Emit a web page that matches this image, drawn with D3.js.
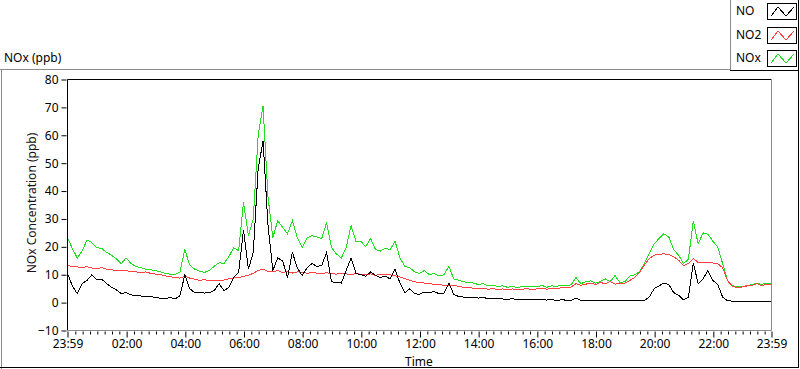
<!DOCTYPE html>
<html>
<head>
<meta charset="utf-8">
<script src="https://cdn.jsdelivr.net/npm/d3@7"></script>
<style>
  html, body { margin: 0; padding: 0; background: #fff; }
  svg text { font-family: "Noto Sans", "DejaVu Sans", sans-serif; }
</style>
</head>
<body>
<div id="chart"></div>
<script>
// samples every 10 minutes, starting 23:59 the day before
const stepMinutes = 10

const no2 = [
    13.3, 13.0, 12.8, 12.6, 12.9, 12.4,
    12.2, 12.5, 12.0, 11.8, 11.5, 11.6,
    11.4, 11.2, 11.0, 10.8, 11.0, 10.5,
    10.2, 10.0, 9.6, 9.3, 9.0, 8.8,
    9.5, 8.8, 8.4, 8.0, 8.2, 7.9,
    7.8, 8.0, 8.1, 8.5, 8.8, 9.0,
    9.4, 9.8, 10.5, 11.5, 12.0, 11.2,
    11.0, 11.5, 10.8, 11.2, 10.6, 11.0,
    10.9, 10.5, 10.8, 10.6, 10.4, 10.7,
    10.4, 10.2, 10.5, 10.3, 10.0, 10.4,
    10.2, 10.0, 10.3, 9.8, 10.1, 9.9,
    10.0, 9.6, 9.2, 8.6, 8.0, 7.5,
    7.2, 7.0, 6.8, 6.6, 6.5, 6.2,
    6.0, 6.3, 5.8, 5.5, 5.4, 5.2,
    5.0, 5.1, 4.8, 5.0, 4.7, 4.9,
    4.7, 4.9, 4.6, 4.8, 5.0, 4.7,
    4.9, 5.2, 4.8, 5.1, 5.0, 5.3,
    5.4, 5.6, 6.8, 6.2, 6.6, 7.0,
    6.5, 7.2, 6.8, 7.5, 6.6, 7.0,
    7.0, 7.9, 9.0, 10.8, 13.5, 15.8,
    17.0, 17.3, 17.5, 17.2, 16.4, 15.2,
    13.3, 14.0, 15.8, 14.4, 14.3, 14.5,
    14.2, 14.0, 12.5, 7.9, 5.8, 5.4,
    5.6, 6.0, 6.2, 6.8, 6.0, 6.6,
    6.3
]

const no = [
    10.4, 6.0, 3.2, 6.8, 8.0, 10.0,
    8.2, 8.4, 6.8, 5.5, 4.6, 3.2,
    3.6, 2.8, 2.5, 2.4, 2.0, 2.2,
    1.8, 1.6, 1.5, 1.8, 1.3, 2.5,
    10.0, 5.0, 3.6, 3.8, 3.4, 3.6,
    4.3, 6.8, 4.3, 5.4, 9.0, 10.8,
    26.0, 12.0, 18.0, 48.0, 58.0, 28.0,
    11.5, 16.0, 15.0, 9.0, 18.0, 12.5,
    9.7, 12.5, 14.0, 13.0, 13.3, 18.0,
    7.5, 7.2, 7.0, 11.5, 16.0, 10.5,
    10.0, 9.5, 11.0, 9.8, 9.0, 9.5,
    8.5, 12.0, 7.0, 3.5, 5.0, 3.2,
    3.0, 3.8, 3.5, 4.0, 3.2, 3.4,
    7.0, 3.0, 2.2, 2.0, 1.8, 2.0,
    1.6, 1.8, 1.5, 1.4, 1.6, 1.3,
    1.2, 1.4, 1.1, 1.3, 1.0, 1.2,
    1.0, 1.2, 0.9, 1.1, 0.8, 1.0,
    0.9, 0.7, 1.6, 0.8, 0.9, 0.7,
    0.8, 0.6, 0.7, 0.9, 0.6, 0.8,
    0.6, 0.7, 0.6, 0.8, 0.7, 2.0,
    5.0, 6.0, 7.0, 6.5, 3.6, 2.6,
    1.0, 2.0, 14.3, 6.8, 8.5, 11.5,
    8.0, 6.5, 2.0, 0.7, 0.5, 0.4,
    0.5, 0.3, 0.4, 0.3, 0.5, 0.3,
    0.3
]

const nox = [
    23.3, 19.4, 16.0, 18.5, 22.5, 21.5,
    19.7, 19.4, 18.0, 17.0, 15.7, 14.0,
    16.0, 14.0, 13.0, 12.5, 12.0, 11.8,
    11.5, 11.0, 10.5, 10.2, 10.0, 11.0,
    19.0, 13.5, 12.0, 11.3, 10.8, 11.5,
    13.0, 14.3, 14.0, 16.5, 19.7, 18.6,
    36.0, 24.0, 30.0, 60.0, 70.6, 38.0,
    23.3, 29.4, 27.0, 24.7, 29.4, 23.3,
    19.7, 23.3, 24.0, 23.5, 23.0, 28.7,
    19.7, 17.5, 16.0, 19.7, 27.6, 22.0,
    22.0, 20.0, 23.0, 19.0, 18.5, 19.5,
    19.0, 22.0, 16.0, 13.0, 12.5, 11.0,
    10.5, 11.5, 10.0, 10.5, 9.5, 10.0,
    13.0, 8.5, 8.0, 7.5, 7.2, 7.0,
    6.5, 6.8, 6.0, 6.2, 5.8, 6.0,
    5.5, 5.8, 5.4, 5.7, 5.6, 5.8,
    5.6, 6.2, 5.5, 6.0, 5.8, 6.3,
    6.0, 6.4, 9.0, 6.8, 7.5, 7.8,
    7.0, 7.6, 8.5, 7.5, 9.7, 7.2,
    7.5, 9.5, 10.0, 11.0, 14.0, 17.5,
    21.0, 23.0, 24.7, 23.5, 19.0, 17.0,
    14.0, 15.5, 29.4, 21.0, 25.0, 24.5,
    22.0, 20.0, 14.0, 8.0, 6.0, 5.8,
    5.9, 6.0, 6.5, 7.0, 6.5, 7.0,
    6.6
]

const series = [
    { name: 'NOx', values: nox, color: '#1ee01e' },
    { name: 'NO2', values: no2, color: '#ff4040' },
    { name: 'NO', values: no, color: '#000000' }
]
const legendOrder = ['NO', 'NO2', 'NOx']

const yTicks = [-10, 0, 10, 20, 30, 40, 50, 60, 70, 80]

const W = 800, H = 369
const plot = { left: 67.5, right: 771.5, top: 79.5, bottom: 330.5 }

const start = new Date(2024, 0, 1, 23, 59)
const end = new Date(2024, 0, 2, 23, 59)
const timeAt = i => new Date(start.getTime() + i * stepMinutes * 60000)

const svg = d3.select('#chart').append('svg')
    .attr('width', W).attr('height', H)

svg.append('rect').attr('width', W).attr('height', H).attr('fill', '#fff')

// Outer panel frame
svg.append('line').attr('x1', 0).attr('x2', 730).attr('y1', 69.5).attr('y2', 69.5).attr('stroke', '#8c8c8c')
svg.append('line').attr('x1', 1.5).attr('x2', 1.5).attr('y1', 69.5).attr('y2', H).attr('stroke', '#8c8c8c')
svg.append('line').attr('x1', 798.5).attr('x2', 798.5).attr('y1', 0).attr('y2', 368).attr('stroke', '#000')
svg.append('line').attr('x1', 0).attr('x2', 799).attr('y1', 367.5).attr('y2', 367.5).attr('stroke', '#000')

svg.append('text')
    .attr('x', 4).attr('y', 62)
    .attr('font-size', '12px').attr('fill', '#000')
    .text('NOx (ppb)')

const x = d3.scaleTime().domain([start, end]).range([plot.left, plot.right])
const y = d3.scaleLinear().domain([-10, 80]).range([plot.bottom, plot.top])

// Y axis
const yAxis = svg.append('g')
    .attr('transform', `translate(${plot.left - 1},0)`)
    .call(d3.axisLeft(y).tickValues(yTicks).tickSize(5).tickPadding(3).tickFormat(d3.format('d')))
yAxis.select('.domain').remove()
yAxis.selectAll('text').attr('font-size', '12px').attr('fill', '#000').attr('font-family', '"Noto Sans", sans-serif')
yAxis.selectAll('.tick line').attr('stroke', '#000')

// X axis: minor ticks every 15 minutes, major every 2 hours
const majorTicks = [start].concat(d3.range(2, 24, 2).map(h => new Date(2024, 0, 2, h, 0)), [end])
const minorTicks = d3.timeMinute.every(15).range(new Date(2024, 0, 2, 0, 15), end)
    .filter(d => !(d.getMinutes() === 0 && d.getHours() % 2 === 0))

const xMinor = svg.append('g')
    .attr('transform', `translate(0,${plot.bottom + 1})`)
    .call(d3.axisBottom(x).tickValues(minorTicks).tickSize(3).tickFormat(''))
xMinor.select('.domain').remove()
xMinor.selectAll('.tick line').attr('stroke', '#000')

const xAxis = svg.append('g')
    .attr('transform', `translate(0,${plot.bottom + 1})`)
    .call(d3.axisBottom(x).tickValues(majorTicks).tickSize(6).tickPadding(2).tickFormat(d3.timeFormat('%H:%M')))
xAxis.select('.domain').remove()
xAxis.selectAll('.tick line').attr('stroke', '#000')
xAxis.selectAll('text').attr('font-size', '12px').attr('fill', '#000').attr('font-family', '"Noto Sans", sans-serif')

svg.append('text')
    .attr('x', 405).attr('y', 366)
    .attr('font-size', '12px').attr('fill', '#000')
    .text('Time')

svg.append('text')
    .attr('transform', `translate(36,${(plot.top + plot.bottom) / 2 - 2}) rotate(-90)`)
    .attr('text-anchor', 'middle')
    .attr('font-size', '12px').attr('fill', '#1a1020')
    .text('NOx Concentration (ppb)')

// Plot frame
svg.append('line').attr('x1', plot.left).attr('x2', plot.right).attr('y1', plot.top).attr('y2', plot.top).attr('stroke', '#000')
svg.append('line').attr('x1', plot.left).attr('x2', plot.left).attr('y1', plot.top).attr('y2', plot.bottom).attr('stroke', '#000')
svg.append('line').attr('x1', plot.right).attr('x2', plot.right).attr('y1', plot.top).attr('y2', plot.bottom).attr('stroke', '#8c8c8c')
svg.append('line').attr('x1', plot.left).attr('x2', plot.right).attr('y1', plot.bottom).attr('y2', plot.bottom).attr('stroke', '#8c8c8c')

svg.append('clipPath').attr('id', 'plot-clip')
    .append('rect')
    .attr('x', plot.left + 0.5).attr('y', plot.top + 0.5)
    .attr('width', plot.right - plot.left - 1).attr('height', plot.bottom - plot.top - 1)

const line = d3.line()
    .x((d, i) => x(timeAt(i)))
    .y(d => y(d))

svg.append('g').attr('clip-path', 'url(#plot-clip)')
    .selectAll('path')
    .data(series).enter()
    .append('path')
    .attr('d', d => line(d.values))
    .attr('fill', 'none')
    .attr('stroke', d => d.color)
    .attr('stroke-width', 1)
    .attr('shape-rendering', 'crispEdges')

// Legend
const legend = svg.append('g')
svg.append('line').attr('x1', 730.5).attr('x2', 730.5).attr('y1', 0).attr('y2', 70).attr('stroke', '#8c8c8c')
svg.append('line').attr('x1', 730).attr('x2', 799).attr('y1', 70.5).attr('y2', 70.5).attr('stroke', '#000')

const legendY = [3, 27, 50]
const zig = d3.line()
const legendItems = legend.selectAll('g')
    .data(legendOrder.map(n => series.find(s => s.name === n))).enter()
    .append('g')
    .attr('transform', (d, i) => `translate(0,${legendY[i]})`)

legendItems.append('text')
    .attr('x', 736).attr('y', 12)
    .attr('font-size', '12px').attr('fill', '#000')
    .text(d => d.name)

legendItems.append('rect')
    .attr('x', 767.5).attr('y', 0.5)
    .attr('width', 29).attr('height', 16)
    .attr('fill', '#fff').attr('stroke', '#000')

legendItems.append('path')
    .attr('d', zig([[771, 13], [778, 4], [786, 13], [794, 4]]))
    .attr('fill', 'none')
    .attr('stroke', d => d.color)
    .attr('shape-rendering', 'crispEdges')
</script>
</body>
</html>
